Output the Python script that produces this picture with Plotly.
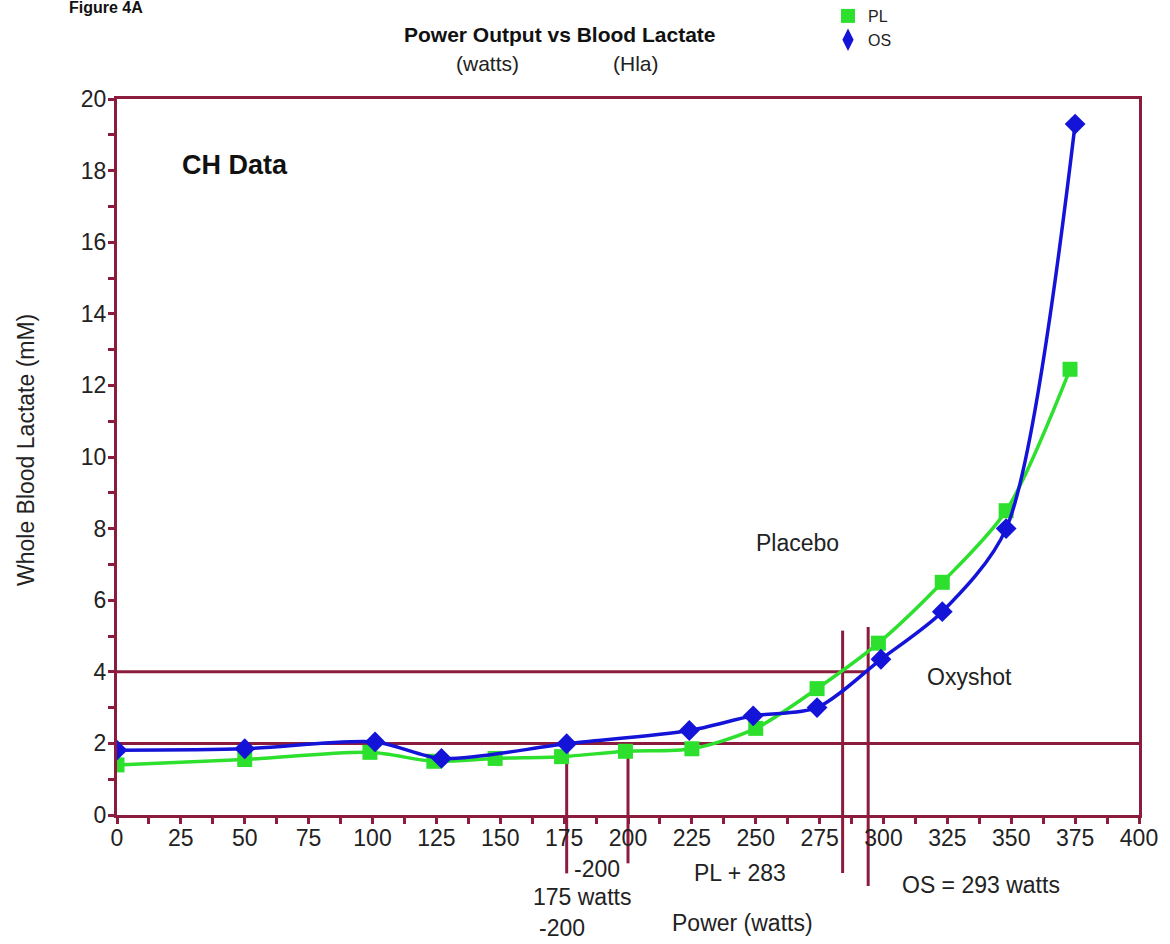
import plotly.graph_objects as go

# ---------------- data ----------------
pl_watts = [0, 50, 99, 124, 148, 174, 199, 225, 250, 274, 298, 323, 348, 373]
pl_lactate = [1.40, 1.55, 1.75, 1.50, 1.58, 1.63, 1.78, 1.85, 2.42, 3.53, 4.80, 6.50, 8.50, 12.45]

os_watts = [0, 50, 101, 127, 176, 224, 249, 274, 299, 323, 348, 375]
os_lactate = [1.81, 1.85, 2.04, 1.58, 1.99, 2.36, 2.77, 3.00, 4.35, 5.68, 8.00, 19.30]

x_ticks = [0, 25, 50, 75, 100, 125, 150, 175, 200, 225, 250, 275, 300, 325, 350, 375, 400]
y_ticks = [0, 2, 4, 6, 8, 10, 12, 14, 16, 18, 20]

# threshold lines (lactate levels) and their x extents
h_levels = [4, 2]
h_x_end = [294, 400]

# vertical marker lines: x position, top and bottom (in lactate units)
v_x = [176, 200, 284, 294]
v_top = [2.0, 1.85, 5.15, 5.25]
v_bottom = [-1.63, -1.35, -1.62, -1.98]

# text labels below the axis: text, watts, lactate-equivalent height
below_text = ["-200", "175 watts", "-200", "PL + 283", "OS = 293 watts", "Power (watts)"]
below_x = [188, 182, 174, 244, 338, 245]
below_y = [-1.52, -2.30, -3.15, -1.62, -1.96, -3.02]

Y_MAX = 20
MAROON = "#8c1c3e"
GREEN = "#2de02d"
BLUE = "#1414d8"
FONT = "Liberation Sans, Arial, sans-serif"
L, R, T, B = 117, 31, 99, 129
PW, PH = 1170 - L - R, 944 - T - B


def px_x(px):
    return (px - L) / PW


def px_y(py):
    return (944 - B - py) / PH


fig = go.Figure()

fig.add_trace(go.Scatter(
    x=pl_watts, y=pl_lactate, mode="lines+markers", name="PL",
    line=dict(color=GREEN, width=3.5, shape="spline", smoothing=0.8),
    marker=dict(symbol="square", size=15, color=GREEN),
    showlegend=False,
))
fig.add_trace(go.Scatter(
    x=os_watts, y=os_lactate, mode="lines+markers", name="OS",
    line=dict(color=BLUE, width=3.5, shape="spline", smoothing=0.8),
    marker=dict(symbol="diamond", size=16, color=BLUE),
    showlegend=False,
))
# legend-only entries (markers only)
fig.add_trace(go.Scatter(x=[None], y=[None], mode="markers", name="PL",
                         marker=dict(symbol="square", size=14, color=GREEN)))
fig.add_trace(go.Scatter(x=[None], y=[None], mode="markers", name="OS",
                         marker=dict(symbol="diamond-tall", size=20, color=BLUE)))

shapes = []
for lvl, xe in zip(h_levels, h_x_end):
    shapes.append(dict(type="line", xref="x", yref="y", x0=0, x1=xe, y0=lvl, y1=lvl,
                       line=dict(color=MAROON, width=3), layer="below"))
for xv, yt, yb in zip(v_x, v_top, v_bottom):
    shapes.append(dict(type="line", xref="x", yref="paper", x0=xv, x1=xv,
                       y0=yb / Y_MAX, y1=yt / Y_MAX,
                       line=dict(color=MAROON, width=3), layer="below"))


def ann(text, x, y, xref, yref, size, color="#222", **kw):
    return dict(text=text, x=x, y=y, xref=xref, yref=yref, showarrow=False,
                xanchor="center", yanchor="middle",
                font=dict(size=size, color=color, family=FONT), **kw)


annotations = []
for t, xv, yv in zip(below_text, below_x, below_y):
    annotations.append(ann(t, xv, yv / Y_MAX, "x", "paper", 23))

annotations += [
    ann("<b>CH Data</b>", 46, 18.15, "x", "y", 27, "#111"),
    ann("Placebo", 266.5, 7.6, "x", "y", 23),
    ann("Oxyshot", 333.5, 3.85, "x", "y", 23),
    ann("Whole Blood Lactate (mM)", px_x(26), px_y(450), "paper", "paper", 23, textangle=-90),
    ann("<b>Power Output vs Blood Lactate</b>", px_x(560), px_y(34), "paper", "paper", 21, "#111"),
    ann("(watts)", px_x(487), px_y(63), "paper", "paper", 21),
    ann("(Hla)", px_x(636), px_y(63), "paper", "paper", 21),
    ann("<b>Figure 4A</b>", px_x(106), px_y(8), "paper", "paper", 16, "#111"),
]

fig.update_layout(
    width=1170, height=944,
    margin=dict(l=L, r=R, t=T, b=B, autoexpand=False),
    paper_bgcolor="white", plot_bgcolor="rgba(0,0,0,0)",
    font=dict(family=FONT, color="#222"),
    shapes=shapes, annotations=annotations,
    legend=dict(x=px_x(828), y=px_y(-1), xanchor="left", yanchor="top",
                bgcolor="rgba(0,0,0,0)",
                font=dict(size=16, color="#222", family=FONT), tracegroupgap=0,
                itemsizing="trace"),
)
fig.update_xaxes(
    range=[0, 400], tickvals=x_ticks, ticktext=[str(v) for v in x_ticks],
    showline=True, linecolor=MAROON, linewidth=3, mirror=True,
    ticks="outside", ticklen=6, tickwidth=3, tickcolor=MAROON,
    minor=dict(dtick=12.5, tick0=0, ticks="outside", ticklen=6, tickwidth=3, tickcolor=MAROON),
    showgrid=False, zeroline=False, ticklabelstandoff=-6,
    tickfont=dict(size=23, color="#222", family=FONT),
)
fig.update_yaxes(
    range=[0, Y_MAX], tickvals=y_ticks, ticktext=[str(v) for v in y_ticks],
    showline=True, linecolor=MAROON, linewidth=3, mirror=True,
    ticks="outside", ticklen=6, tickwidth=3, tickcolor=MAROON,
    minor=dict(dtick=1, tick0=0, ticks="outside", ticklen=6, tickwidth=3, tickcolor=MAROON),
    showgrid=False, zeroline=False, ticklabelstandoff=-3,
    tickfont=dict(size=23, color="#222", family=FONT),
)

fig.write_html("out.html")
